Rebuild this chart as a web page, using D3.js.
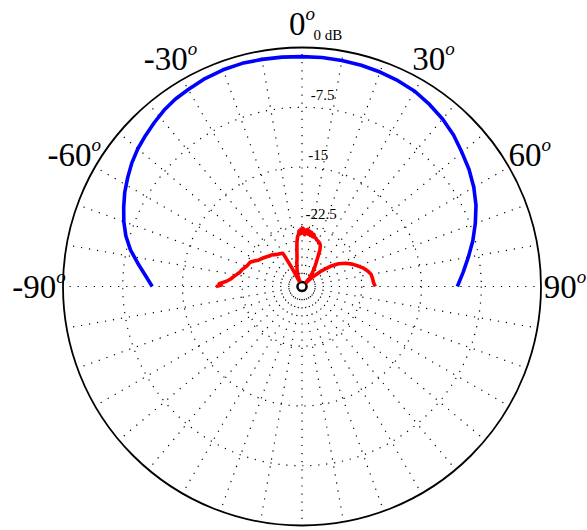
<!DOCTYPE html>
<html>
<head>
<meta charset="utf-8">
<script src="https://cdn.jsdelivr.net/npm/d3@7"></script>
<style>
  html, body { margin: 0; padding: 0; background: #fff; }
  svg { display: block; }
</style>
</head>
<body>
<script>
// Directivity pattern, dB scale, 0° at the top, angles clockwise.

// Blue trace: angle (deg) and level (dB)
const blueAngles = [-90, -86, -82, -78, -74, -70, -66, -62, -58, -54, -50, -46, -42, -38, -34, -30, -25, -20, -15, -10, -5, 0, 5, 10, 15, 20, 25, 30, 35, 40, 45, 50, 55, 60, 65, 70, 75, 80, 85, 90];
const blueDb = [-11.2, -10.3, -9.2, -8.0, -7.0, -6.2, -5.5, -4.8, -4.2, -3.6, -3.1, -2.7, -2.3, -1.9, -1.6, -1.45, -1.2, -1.05, -1.0, -1.05, -1.1, -1.15, -1.15, -1.2, -1.25, -1.35, -1.5, -1.7, -2.1, -2.55, -3.1, -3.8, -4.4, -5.1, -5.9, -6.85, -7.8, -8.8, -9.7, -10.5];

// Red trace: angle (deg) and level (dB); levels under -30 dB sit at the centre
const redAngles = [-90, -89, -88, -86, -84, -82, -80, -77, -74, -71, -68, -65, -62, -59, -56, -53, -50, -47, -44, -41, -38, -35, -32, -30, -29.5, -29, -28.5, -28, -27.5, -27, -26, -25, -21, -17, -13, -10, -8, -6.5, -5, -4, -3, -2, -1, 0, 1, 2, 3, 4, 5, 6, 7, 8, 9, 10, 11, 12, 13, 14, 16, 18, 20, 22, 24, 26, 28, 31, 34, 38, 42, 44, 45, 46, 48, 51, 55, 58, 62, 66, 70, 73, 77, 80, 83, 87, 90];
const redDb = [-19.2, -19.9, -19.6, -20.5, -21.0, -21.3, -21.6, -22.0, -22.2, -22.5, -22.7, -22.8, -23.2, -23.6, -23.8, -24.0, -24.2, -24.4, -24.5, -24.7, -24.9, -25.0, -25.1, -25.2, -25.9, -26.7, -27.7, -28.7, -29.5, -31, -31, -29.4, -28.6, -27.9, -27.1, -26.4, -25.4, -24.4, -23.7, -23.5, -23.0, -23.4, -22.8, -23.3, -22.7, -23.1, -23.5, -22.9, -23.3, -22.8, -23.4, -23.0, -23.5, -23.1, -23.4, -23.6, -23.3, -23.6, -23.7, -23.9, -24.0, -24.1, -24.35, -24.85, -25.7, -26.6, -27.2, -28.0, -28.6, -29.4, -31, -31, -28.2, -27.0, -25.5, -24.6, -23.8, -23.1, -22.5, -22.0, -21.5, -21.2, -21.1, -21.0, -20.8];

// Radial grid levels (dB) and angle labels (deg)
const ringDb = [-7.5, -15, -22.5];
const ringLabels = ["-7.5", "-15", "-22.5"];
const outerLabel = "0 dB";
const angleTicks = [-90, -60, -30, 0, 30, 60, 90];
const spokeAngles = d3.range(0, 360, 10);

const W = 587, H = 530;
const cx = 302, cy = 286.5, R = 239;
const dbMin = -30, dbMax = 0;

const svg = d3.select("body").append("svg")
  .attr("width", W).attr("height", H)
  .style("background", "#fff");

const g = svg.append("g").attr("transform", `translate(${cx},${cy})`);

const r = d3.scaleLinear().domain([dbMin, dbMax]).range([0, R]).clamp(true);
const rad = d => d * Math.PI / 180;

// spokes
g.append("g").selectAll("line").data(spokeAngles).join("line")
  .attr("x1", 0).attr("y1", 0)
  .attr("x2", d => R * Math.sin(rad(d)))
  .attr("y2", d => -R * Math.cos(rad(d)))
  .attr("stroke", "#000").attr("stroke-width", 1.2)
  .attr("stroke-dasharray", "1.2,6.9").attr("stroke-dashoffset", 3.6);

// dotted level rings
g.append("g").selectAll("circle").data(ringDb).join("circle")
  .attr("r", d => r(d))
  .attr("fill", "none").attr("stroke", "#000").attr("stroke-width", 1.2)
  .attr("stroke-dasharray", "1.2,6.8");

// outer ring at 0 dB
g.append("circle").attr("r", r(dbMax))
  .attr("fill", "none").attr("stroke", "#000").attr("stroke-width", 1.8);

// traces
const line = d3.lineRadial()
  .angle(d => rad(d[0]))
  .radius(d => r(d[1]))
  .curve(d3.curveLinear);

g.append("path")
  .datum(d3.zip(blueAngles, blueDb))
  .attr("d", line)
  .attr("fill", "none").attr("stroke", "#0000ff").attr("stroke-width", 3.6)
  .attr("stroke-linejoin", "round");

g.append("path")
  .datum(d3.zip(redAngles, redDb))
  .attr("d", line)
  .attr("fill", "none").attr("stroke", "#ff0000").attr("stroke-width", 3.6)
  .attr("stroke-linejoin", "round");

// origin marker
g.append("circle").attr("r", 4.2)
  .attr("fill", "#fff").attr("stroke", "#000").attr("stroke-width", 1.8);

// level labels
const labAng = rad(2.5);
const levelLabels = ringDb.map((d, i) => ({ db: d, text: ringLabels[i] }))
  .concat([{ db: dbMax, text: outerLabel }]);
g.append("g").selectAll("text").data(levelLabels).join("text")
  .attr("x", d => r(d.db) * Math.sin(labAng) + 1)
  .attr("y", d => -r(d.db) * Math.cos(labAng) - 7.5)
  .attr("font-family", "'Liberation Serif', serif")
  .attr("font-size", 15)
  .attr("fill", "#000")
  .text(d => d.text);

// angle labels with superscript degree mark
const labR = 263;
const angLab = g.append("g").selectAll("text").data(angleTicks).join("text")
  .attr("x", d => labR * Math.sin(rad(d)))
  .attr("y", d => -labR * Math.cos(rad(d)) + 11)
  .attr("text-anchor", "middle")
  .attr("font-family", "'Liberation Serif', serif")
  .attr("font-size", 33)
  .attr("fill", "#000");
angLab.append("tspan").text(d => String(d));
angLab.append("tspan")
  .attr("font-size", 19).attr("font-style", "italic")
  .attr("dy", -15)
  .text("o");
</script>
</body>
</html>
